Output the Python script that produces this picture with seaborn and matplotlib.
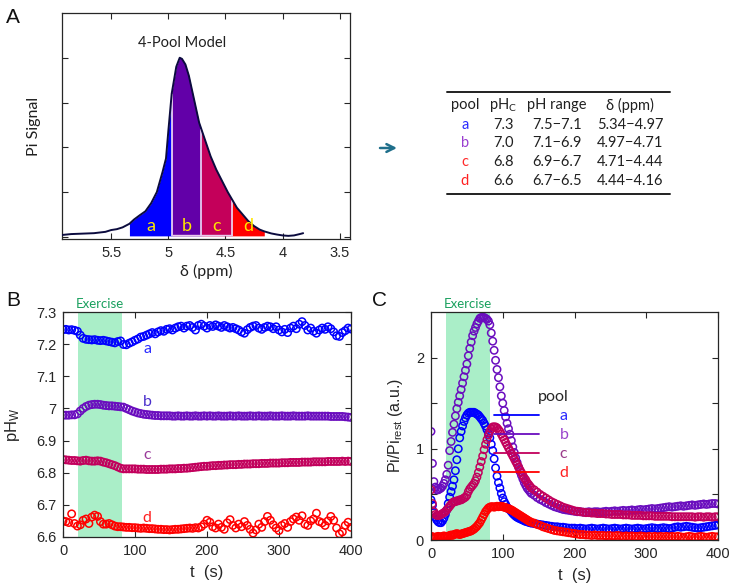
import numpy as np
import matplotlib
matplotlib.use("Agg")
import matplotlib.pyplot as plt
from matplotlib.lines import Line2D
from matplotlib.patches import FancyArrowPatch
from matplotlib.transforms import blended_transform_factory
import seaborn as sns

# ---------------- data: panel A (Pi spectrum) ----------------
spec_ppm = np.array([5.93, 5.85, 5.75, 5.65, 5.55, 5.50, 5.45, 5.40, 5.34, 5.30,
                     5.25, 5.20, 5.15, 5.10, 5.05, 5.02, 5.00, 4.97, 4.95, 4.93,
                     4.90, 4.88, 4.85, 4.82, 4.79, 4.76, 4.73, 4.71, 4.67, 4.63,
                     4.58, 4.53, 4.48, 4.44, 4.40, 4.35, 4.30, 4.25, 4.20, 4.16,
                     4.10, 4.05, 4.00, 3.95, 3.90, 3.85, 3.82])
spec_sig = np.array([0.008, 0.012, 0.014, 0.016, 0.022, 0.030, 0.034, 0.042, 0.058, 0.077,
                     0.096, 0.114, 0.150, 0.200, 0.290, 0.350, 0.470, 0.640, 0.700, 0.760,
                     0.800, 0.795, 0.770, 0.720, 0.650, 0.580, 0.510, 0.480, 0.420, 0.360,
                     0.300, 0.250, 0.200, 0.165, 0.130, 0.100, 0.070, 0.048, 0.032, 0.024,
                     0.015, 0.010, 0.006, 0.004, 0.006, 0.012, 0.016])

pools = ["a", "b", "c", "d"]
pool_hi = [5.34, 4.97, 4.71, 4.44]
pool_lo = [4.97, 4.71, 4.44, 4.16]
pHc = ["7.3", "7.0", "6.8", "6.6"]
pH_range = ["7.5\u22127.1", "7.1\u22126.9", "6.9\u22126.7", "6.7\u22126.5"]
delta_range = ["5.34\u22124.97", "4.97\u22124.71", "4.71\u22124.44", "4.44\u22124.16"]
table_header = ["pool", "pH$_\\mathregular{C}$", "pH range", "\u03b4 (ppm)"]

# ---------------- data: panel B (pHw) ----------------
exercise = (21, 82)
t_B = np.arange(0, 401, 4)
pHw_a = [7.245, 7.246, 7.244, 7.245, 7.243, 7.240, 7.228, 7.218, 7.215, 7.214,
         7.213, 7.214, 7.212, 7.211, 7.212, 7.210, 7.208, 7.206, 7.204, 7.208,
         7.210, 7.199, 7.198, 7.203, 7.207, 7.212, 7.216, 7.222, 7.224, 7.228,
         7.232, 7.236, 7.232, 7.238, 7.242, 7.240, 7.246, 7.248, 7.244, 7.250,
         7.254, 7.256, 7.250, 7.256, 7.258, 7.252, 7.244, 7.258, 7.262, 7.256,
         7.250, 7.258, 7.255, 7.260, 7.256, 7.252, 7.258, 7.254, 7.250, 7.252,
         7.248, 7.244, 7.238, 7.234, 7.245, 7.252, 7.256, 7.258, 7.250, 7.246,
         7.252, 7.256, 7.254, 7.248, 7.254, 7.244, 7.238, 7.246, 7.236, 7.250,
         7.256, 7.248, 7.262, 7.270, 7.258, 7.244, 7.250, 7.240, 7.234, 7.244,
         7.250, 7.246, 7.254, 7.248, 7.238, 7.226, 7.224, 7.236, 7.242, 7.250,
         7.247]
pHw_b = [6.979, 6.979, 6.979, 6.980, 6.980, 6.983, 6.992, 7.000, 7.006, 7.010,
         7.012, 7.013, 7.013, 7.012, 7.010, 7.009, 7.008, 7.008, 7.007, 7.006,
         7.005, 7.004, 7.000, 6.996, 6.992, 6.989, 6.986, 6.984, 6.982, 6.981,
         6.980, 6.979, 6.978, 6.978, 6.977, 6.977, 6.977, 6.977, 6.976, 6.976,
         6.977, 6.976, 6.976, 6.977, 6.976, 6.976, 6.977, 6.976, 6.976, 6.977,
         6.976, 6.977, 6.976, 6.976, 6.977, 6.976, 6.976, 6.976, 6.977, 6.976,
         6.976, 6.977, 6.976, 6.976, 6.976, 6.977, 6.976, 6.976, 6.977, 6.976,
         6.976, 6.976, 6.977, 6.976, 6.976, 6.976, 6.977, 6.976, 6.976, 6.976,
         6.977, 6.976, 6.976, 6.976, 6.976, 6.977, 6.976, 6.976, 6.976, 6.976,
         6.976, 6.976, 6.976, 6.975, 6.975, 6.975, 6.975, 6.975, 6.974, 6.973,
         6.972]
pHw_c = [6.841, 6.840, 6.839, 6.838, 6.838, 6.837, 6.836, 6.838, 6.839, 6.837,
         6.836, 6.836, 6.837, 6.836, 6.833, 6.831, 6.828, 6.825, 6.822, 6.818,
         6.814, 6.812, 6.812, 6.812, 6.812, 6.812, 6.811, 6.811, 6.811, 6.810,
         6.810, 6.810, 6.810, 6.810, 6.811, 6.811, 6.811, 6.812, 6.812, 6.812,
         6.813, 6.813, 6.814, 6.814, 6.815, 6.816, 6.817, 6.818, 6.819, 6.820,
         6.820, 6.821, 6.822, 6.822, 6.823, 6.823, 6.824, 6.824, 6.825, 6.825,
         6.825, 6.826, 6.826, 6.827, 6.827, 6.827, 6.828, 6.828, 6.828, 6.829,
         6.829, 6.829, 6.830, 6.830, 6.830, 6.830, 6.831, 6.831, 6.831, 6.832,
         6.832, 6.832, 6.832, 6.833, 6.833, 6.833, 6.833, 6.834, 6.834, 6.834,
         6.834, 6.834, 6.835, 6.835, 6.835, 6.835, 6.835, 6.836, 6.835, 6.836,
         6.835]
pHw_d = [6.650, 6.648, 6.645, 6.672, 6.642, 6.634, 6.638, 6.652, 6.656, 6.642,
         6.662, 6.668, 6.664, 6.648, 6.640, 6.640, 6.642, 6.638, 6.634, 6.632,
         6.632, 6.631, 6.630, 6.630, 6.629, 6.629, 6.628, 6.627, 6.628, 6.627,
         6.626, 6.626, 6.625, 6.624, 6.624, 6.623, 6.623, 6.622, 6.623, 6.624,
         6.624, 6.625, 6.626, 6.627, 6.628, 6.627, 6.629, 6.628, 6.632, 6.640,
         6.652, 6.646, 6.632, 6.628, 6.640, 6.630, 6.624, 6.644, 6.654, 6.636,
         6.628, 6.640, 6.632, 6.648, 6.636, 6.624, 6.612, 6.622, 6.640, 6.630,
         6.648, 6.664, 6.652, 6.638, 6.628, 6.620, 6.636, 6.642, 6.630, 6.648,
         6.656, 6.662, 6.652, 6.666, 6.640, 6.636, 6.650, 6.656, 6.674, 6.648,
         6.644, 6.636, 6.650, 6.664, 6.652, 6.628, 6.610, 6.616, 6.636, 6.646,
         6.630]

# ---------------- data: panel C (Pi / Pi_rest) ----------------
t_C = np.concatenate([np.arange(0, 141, 2), np.arange(144, 401, 4)])
pi_a = [0.44, 0.38, 0.30, 0.25, 0.22, 0.20, 0.19, 0.19, 0.21, 0.24,
        0.28, 0.33, 0.40, 0.47, 0.53, 0.59, 0.66, 0.76, 0.88, 1.00,
        1.12, 1.19, 1.25, 1.30, 1.34, 1.37, 1.39, 1.40, 1.40, 1.40,
        1.40, 1.39, 1.38, 1.37, 1.35, 1.33, 1.31, 1.28, 1.25, 1.21,
        1.17, 1.12, 1.05, 0.98, 0.89, 0.79, 0.70, 0.63, 0.57, 0.51,
        0.46, 0.42, 0.39, 0.36, 0.34, 0.33, 0.31, 0.29, 0.275, 0.26,
        0.25, 0.24, 0.235, 0.225, 0.22, 0.21, 0.205, 0.20, 0.195, 0.19,
        0.185,
        0.18, 0.175, 0.17, 0.165, 0.16, 0.155, 0.15, 0.145, 0.145, 0.14,
        0.14, 0.135, 0.13, 0.13, 0.13, 0.125, 0.13, 0.125, 0.12, 0.125,
        0.13, 0.125, 0.12, 0.125, 0.13, 0.125, 0.12, 0.125, 0.13, 0.125,
        0.12, 0.125, 0.13, 0.125, 0.12, 0.125, 0.13, 0.125, 0.12, 0.125,
        0.13, 0.135, 0.13, 0.125, 0.13, 0.135, 0.13, 0.125, 0.13, 0.14,
        0.145, 0.14, 0.145, 0.15, 0.145, 0.14, 0.135, 0.13, 0.135, 0.14,
        0.145, 0.15, 0.155, 0.16, 0.165]
pi_b = [1.19, 0.84, 0.64, 0.58, 0.55, 0.55, 0.56, 0.57, 0.59, 0.62,
        0.66, 0.72, 0.82, 0.98, 1.08, 1.18, 1.27, 1.36, 1.44, 1.51,
        1.58, 1.65, 1.72, 1.79, 1.86, 1.93, 2.02, 2.10, 2.17, 2.24,
        2.29, 2.33, 2.37, 2.40, 2.43, 2.44, 2.44, 2.44, 2.43, 2.42,
        2.40, 2.36, 2.27, 2.18, 2.08, 1.97, 1.87, 1.78, 1.68, 1.58,
        1.50, 1.42, 1.35, 1.28, 1.22, 1.16, 1.09, 1.02, 0.96, 0.90,
        0.85, 0.80, 0.75, 0.71, 0.67, 0.63, 0.60, 0.57, 0.55, 0.53,
        0.51,
        0.49, 0.465, 0.445, 0.43, 0.41, 0.395, 0.38, 0.365, 0.355, 0.345,
        0.335, 0.33, 0.325, 0.32, 0.315, 0.31, 0.31, 0.305, 0.305, 0.31,
        0.305, 0.31, 0.31, 0.305, 0.31, 0.315, 0.31, 0.315, 0.32, 0.315,
        0.32, 0.325, 0.32, 0.325, 0.33, 0.325, 0.33, 0.335, 0.33, 0.335,
        0.34, 0.345, 0.34, 0.345, 0.35, 0.355, 0.36, 0.365, 0.36, 0.365,
        0.37, 0.375, 0.37, 0.375, 0.38, 0.385, 0.38, 0.385, 0.39, 0.395,
        0.39, 0.395, 0.40, 0.40, 0.395]
pi_c = [0.55, 0.40, 0.31, 0.28, 0.27, 0.27, 0.27, 0.28, 0.29, 0.30,
        0.31, 0.33, 0.35, 0.37, 0.39, 0.41, 0.42, 0.42, 0.43, 0.43,
        0.44, 0.44, 0.45, 0.46, 0.47, 0.49, 0.53, 0.56, 0.58, 0.60,
        0.62, 0.65, 0.69, 0.74, 0.80, 0.86, 0.92, 0.99, 1.05, 1.10,
        1.15, 1.19, 1.22, 1.24, 1.24, 1.24, 1.23, 1.21, 1.19, 1.16,
        1.13, 1.10, 1.07, 1.04, 1.01, 0.98, 0.95, 0.92, 0.89, 0.86,
        0.83, 0.80, 0.77, 0.74, 0.71, 0.68, 0.66, 0.63, 0.61, 0.59,
        0.57,
        0.55, 0.525, 0.50, 0.48, 0.46, 0.44, 0.42, 0.405, 0.39, 0.375,
        0.36, 0.35, 0.34, 0.33, 0.32, 0.315, 0.31, 0.305, 0.30, 0.30,
        0.295, 0.295, 0.29, 0.29, 0.29, 0.285, 0.285, 0.28, 0.28, 0.28,
        0.28, 0.275, 0.275, 0.275, 0.27, 0.27, 0.27, 0.27, 0.265, 0.265,
        0.265, 0.265, 0.26, 0.26, 0.26, 0.26, 0.26, 0.26, 0.255, 0.255,
        0.255, 0.255, 0.255, 0.255, 0.255, 0.255, 0.25, 0.255, 0.255, 0.25,
        0.255, 0.255, 0.25, 0.255, 0.255]
pi_d = [0.04, 0.035, 0.03, 0.03, 0.035, 0.04, 0.035, 0.03, 0.04, 0.045,
        0.04, 0.035, 0.04, 0.05, 0.055, 0.05, 0.06, 0.065, 0.07, 0.065,
        0.06, 0.065, 0.07, 0.075, 0.08, 0.085, 0.09, 0.095, 0.10, 0.11,
        0.12, 0.135, 0.15, 0.17, 0.19, 0.22, 0.25, 0.28, 0.31, 0.33,
        0.35, 0.36, 0.365, 0.365, 0.36, 0.365, 0.37, 0.365, 0.37, 0.37,
        0.365, 0.36, 0.355, 0.35, 0.345, 0.335, 0.33, 0.32, 0.31, 0.30,
        0.29, 0.28, 0.27, 0.26, 0.25, 0.24, 0.23, 0.22, 0.21, 0.20,
        0.195,
        0.185, 0.17, 0.16, 0.145, 0.135, 0.125, 0.115, 0.105, 0.10, 0.095,
        0.09, 0.085, 0.08, 0.075, 0.07, 0.065, 0.06, 0.06, 0.055, 0.055,
        0.05, 0.055, 0.05, 0.05, 0.05, 0.045, 0.05, 0.045, 0.045, 0.05,
        0.045, 0.04, 0.045, 0.04, 0.045, 0.04, 0.04, 0.045, 0.04, 0.035,
        0.04, 0.035, 0.04, 0.035, 0.04, 0.035, 0.04, 0.035, 0.04, 0.035,
        0.04, 0.035, 0.03, 0.035, 0.04, 0.035, 0.03, 0.035, 0.04, 0.035,
        0.03, 0.035, 0.04, 0.035, 0.035]

# ---------------- style ----------------
pool_colors = ["#0000ff", "#6a0dbe", "#c2005c", "#ff0000"]
fill_colors = ["#0000ff", "#6200a8", "#c4005a", "#ff0000"]
tableB_colors = ["#2a2aff", "#9a3fd0", "#ff2a2a", "#ff2020"]
labelB_colors = ["#2a2aff", "#4b30cc", "#9a3a9a", "#ff2020"]
legendC_colors = ["#2a2aff", "#9a45cc", "#9a3a8a", "#ff2020"]
ex_color = "#aaeec8"
ex_text = "#1aa05e"
dark = "#262626"

sns.set_theme(style="white")
plt.rcParams["font.family"] = ["Liberation Sans", "DejaVu Sans"]
plt.rcParams["mathtext.default"] = "regular"
SOFT = ["Lato", "DejaVu Sans"]

W, H = 733, 588
fig = plt.figure(figsize=(W / 100, H / 100), dpi=100)


def rect(l, t, r, b):
    return [l / W, 1 - b / H, (r - l) / W, (b - t) / H]


axA = fig.add_axes(rect(62, 13, 350, 239))
axB = fig.add_axes(rect(63, 312, 351, 537))
axC = fig.add_axes(rect(431, 312, 718, 540))

for ax in (axA, axB, axC):
    for sp in ax.spines.values():
        sp.set_color(dark)
        sp.set_linewidth(0.9)
    ax.tick_params(direction="in", length=4, width=0.8, color=dark,
                   top=True, right=True, bottom=True, left=True,
                   labelsize=10.5, labelcolor=dark, pad=5)

# ---------------- panel A ----------------
for lo, hi, col in zip(pool_lo, pool_hi, fill_colors):
    m = (spec_ppm <= hi + 1e-9) & (spec_ppm >= lo - 1e-9)
    axA.fill_between(spec_ppm[m], 0.004, spec_sig[m], color=col, lw=0, zorder=1)
for b in pool_lo[:-1]:
    yb = spec_sig[np.argmin(np.abs(spec_ppm - b))]
    axA.vlines(b, 0.004, yb, color="#f2dcf2", lw=1.2, zorder=2)
axA.hlines(0.006, pool_lo[2], pool_hi[1], color="#e8c8ec", lw=1.0, zorder=2)
sns.lineplot(x=spec_ppm, y=spec_sig, ax=axA, color="#0b0b3e", lw=1.4,
             estimator=None, sort=False, zorder=3)
for p, lo, hi in zip(pools, pool_lo, pool_hi):
    axA.text((lo + hi) / 2, 0.05, p, color="#ffe600", fontsize=13,
             ha="center", va="center", family=SOFT, zorder=4)
axA.text(0.417, 0.867, "4-Pool Model", transform=axA.transAxes, ha="center",
         va="center", fontsize=10.5, family=SOFT, color="#202020")
axA.set_xlim(5.93, 3.41)
axA.set_ylim(-0.01, 1.0)
axA.set_xticks([5.5, 5, 4.5, 4, 3.5])
axA.set_xticklabels(["5.5", "5", "4.5", "4", "3.5"])
axA.set_yticks([0, 0.2, 0.4, 0.6, 0.8])
axA.set_yticklabels([])
axA.set_xlabel("\u03b4 (ppm)", fontsize=11.5, family=SOFT, color="#202020", labelpad=3)
axA.set_ylabel("Pi Signal", fontsize=11.5, family=SOFT, color="#202020", labelpad=10)

# ---------------- table ----------------
col_x = [465, 503, 557, 630]
row_y = [105, 125, 143, 162, 181]
for j, h in enumerate(table_header):
    fig.text(col_x[j] / W, 1 - row_y[0] / H, h, ha="center", va="center",
             fontsize=10.5, family=SOFT, color="#202020")
for i in range(4):
    vals = [pools[i], pHc[i], pH_range[i], delta_range[i]]
    for j, v in enumerate(vals):
        fig.text(col_x[j] / W, 1 - row_y[i + 1] / H, v, ha="center", va="center",
                 fontsize=10.5, family=SOFT,
                 color=tableB_colors[i] if j == 0 else "#202020")
for yl in (92, 194):
    fig.add_artist(Line2D([447 / W, 670 / W], [1 - yl / H, 1 - yl / H],
                          color="#202020", lw=1.4, transform=fig.transFigure))
fig.add_artist(FancyArrowPatch((380 / W, 1 - 148 / H), (397 / W, 1 - 148 / H),
                               transform=fig.transFigure, arrowstyle="->",
                               mutation_scale=14, color="#1f6f8b", lw=1.8,
                               shrinkA=0, shrinkB=0))

# ---------------- panel B ----------------
axB.axvspan(*exercise, color=ex_color, lw=0, zorder=0)
for series, col in zip([pHw_a, pHw_b, pHw_c, pHw_d], pool_colors):
    sns.scatterplot(x=t_B, y=series, ax=axB, marker="o", s=28,
                    facecolor="none", edgecolor=col, linewidth=1.1, zorder=2)
for p, yv, col in zip(pools, [7.184, 7.021, 6.855, 6.659], labelB_colors):
    axB.text(117, yv, p, color=col, fontsize=11.5, ha="center", va="center", family=SOFT)
trB = blended_transform_factory(axB.transData, axB.transAxes)
axB.text(sum(exercise) / 2, 1.01, "Exercise", transform=trB, ha="center",
         va="bottom", fontsize=9.5, color=ex_text, family=SOFT)
axB.set_xlim(0, 400)
axB.set_ylim(6.6, 7.3)
axB.set_xticks([0, 100, 200, 300, 400])
axB.set_yticks([6.6, 6.7, 6.8, 6.9, 7.0, 7.1, 7.2, 7.3])
axB.set_yticklabels(["6.6", "6.7", "6.8", "6.9", "7", "7.1", "7.2", "7.3"])
axB.set_xlabel("t  (s)", fontsize=12, color=dark, labelpad=5)
axB.set_ylabel("pH$_\\mathregular{W}$", fontsize=12, color=dark, labelpad=10)

# ---------------- panel C ----------------
axC.axvspan(*exercise, color=ex_color, lw=0, zorder=0)
for series, col in zip([pi_a, pi_b, pi_c, pi_d], pool_colors):
    sns.scatterplot(x=t_C, y=series, ax=axC, marker="o", s=28,
                    facecolor="none", edgecolor=col, linewidth=1.1, zorder=2)
trC = blended_transform_factory(axC.transData, axC.transAxes)
axC.text(sum(exercise) / 2, 1.01, "Exercise", transform=trC, ha="center",
         va="bottom", fontsize=9.5, color=ex_text, family=SOFT)
handles = [Line2D([], [], color=c, lw=1.3) for c in pool_colors]
leg = axC.legend(handles, pools, title="pool", frameon=False,
                 loc="upper left", bbox_to_anchor=(0.17, 0.72),
                 handlelength=2.8, handletextpad=1.3, labelspacing=0.3,
                 prop={"family": SOFT, "size": 11.5},
                 title_fontproperties={"family": SOFT, "size": 11.5})
for txt, c in zip(leg.get_texts(), legendC_colors):
    txt.set_color(c)
leg._legend_box.align = "right"
axC.set_xlim(0, 400)
axC.set_ylim(0, 2.5)
axC.set_xticks([0, 100, 200, 300, 400])
axC.set_yticks([0, 0.5, 1, 1.5, 2])
axC.set_yticklabels(["0", "", "1", "", "2"])
axC.set_xlabel("t  (s)", fontsize=12, color=dark, labelpad=5)
axC.set_ylabel("Pi/Pi$_\\mathregular{rest}$ (a.u.)", fontsize=11.5, color=dark,
               labelpad=8)

# ---------------- panel letters ----------------
for lab, x, y in (("A", 6, 8), ("B", 6, 291), ("C", 372, 291)):
    fig.text(x / W, 1 - y / H, lab, fontsize=15, va="top", ha="left", color="#111111")

fig.savefig("out.png", dpi=100)
